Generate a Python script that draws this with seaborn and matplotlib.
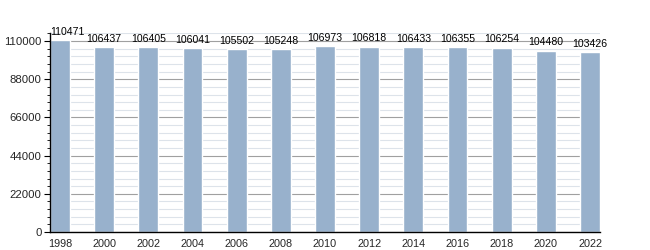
import matplotlib
matplotlib.use("Agg")
import matplotlib.pyplot as plt
import seaborn as sns
import pandas as pd
from matplotlib.ticker import MultipleLocator

years = ["1998", "2000", "2002", "2004", "2006", "2008", "2010", "2012", "2014", "2016", "2018", "2020", "2022"]
population = [110471, 106437, 106405, 106041, 105502, 105248, 106973, 106818, 106433, 106355, 106254, 104480, 103426]
yticks = [0, 22000, 44000, 66000, 88000, 110000]

df = pd.DataFrame({"year": years, "pop": population})

sns.set_theme(style="white")
plt.rcParams['font.family'] = ['Liberation Sans', 'DejaVu Sans']

fig = plt.figure(figsize=(6.5, 2.5), dpi=100)
ax = fig.add_axes([50/650, 1-232/250, 550/650, (232-33.4)/250])

sns.barplot(data=df, x="year", y="pop", color="#98b1cc", saturation=1, width=0.45, ax=ax, zorder=2)

ax.set_ylim(0, 114400)
ax.set_xlim(-0.225, 12.225)
ax.set_yticks(yticks)
ax.yaxis.set_minor_locator(MultipleLocator(4400))
ax.grid(which="major", axis="y", color="#a0a0a0", linewidth=0.8, zorder=0)
ax.grid(which="minor", axis="y", color="#dde3ea", linewidth=0.8, zorder=0)
ax.set_axisbelow(True)

for s in ["top", "right"]:
    ax.spines[s].set_visible(False)
for s in ["left", "bottom"]:
    ax.spines[s].set_color("black")
    ax.spines[s].set_linewidth(1.0)

ax.tick_params(axis="y", which="major", left=True, length=4, width=0.8, labelsize=8.2, pad=2, color="black")
ax.tick_params(axis="y", which="minor", left=True, length=2, width=0.6, color="black")
ax.tick_params(axis="x", bottom=False, labelsize=7.8, pad=-1)
ax.set_xlabel("")
ax.set_ylabel("")

for i, v in enumerate(population):
    ha = "center"
    x = i
    if i == 0:
        ha = "left"
        x = -0.225
    ax.text(x, v + 1800, str(v), ha=ha, va="bottom", fontsize=7.6, color="black")

fig.savefig("out.png", dpi=100)
